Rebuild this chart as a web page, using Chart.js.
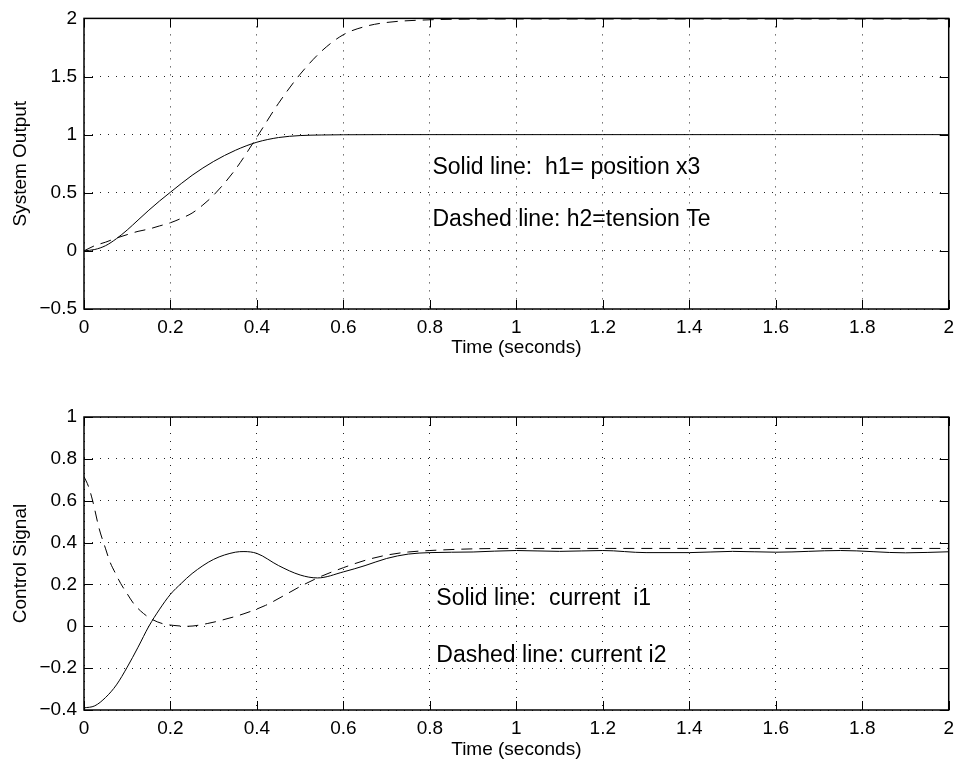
<!DOCTYPE html>
<html lang="en">
  <head>
    <meta charset="UTF-8" />
    <title>System Output / Control Signal</title>
    <script src="https://cdn.jsdelivr.net/npm/chart.js"></script>
    <style>
      body {
        margin: 0;
        background: #fff;
      }
      #wrap {
        position: relative;
        width: 961px;
        height: 765px;
      }
      canvas {
        position: absolute;
        left: 0;
      }
      #topChart { top: 0; }
      #bottomChart { top: 370px; }
    </style>
  </head>
  <body>
    <div id="wrap">
      <canvas id="topChart" width="961" height="370"></canvas>
      <canvas id="bottomChart" width="961" height="395"></canvas>
    </div>

    <script>
      // x ticks shared by both plots
      var xTicks = [0, 0.2, 0.4, 0.6, 0.8, 1, 1.2, 1.4, 1.6, 1.8, 2];
      var topYTicks = [-0.5, 0, 0.5, 1, 1.5, 2];
      var bottomYTicks = [-0.4, -0.2, 0, 0.2, 0.4, 0.6, 0.8, 1];

      // top plot: h1 = position x3 (solid)
      var h1Time = [0, 0.025, 0.05, 0.075, 0.1, 0.125, 0.15, 0.175, 0.2, 0.25, 0.3, 0.35, 0.4, 0.45, 0.5, 0.55, 0.6, 0.7, 0.8, 1.0, 1.2, 1.4, 1.6, 1.8, 2.0];
      var h1 = [0, 0.012, 0.045, 0.105, 0.18, 0.265, 0.35, 0.43, 0.505, 0.65, 0.77, 0.865, 0.935, 0.975, 0.992, 0.997, 0.999, 1.0, 1.0, 1.0, 1.0, 1.0, 1.0, 1.0, 1.0];

      // top plot: h2 = tension Te (dashed)
      var h2Time = [0, 0.025, 0.05, 0.075, 0.1, 0.125, 0.15, 0.175, 0.2, 0.225, 0.25, 0.275, 0.3, 0.35, 0.4, 0.45, 0.5, 0.55, 0.6, 0.65, 0.7, 0.8, 0.9, 1.0, 1.2, 1.4, 1.6, 1.8, 2.0];
      var h2 = [0, 0.045, 0.075, 0.11, 0.14, 0.168, 0.188, 0.215, 0.242, 0.28, 0.325, 0.395, 0.48, 0.7, 0.98, 1.27, 1.52, 1.72, 1.86, 1.93, 1.965, 1.988, 1.994, 1.995, 1.995, 1.995, 1.995, 1.995, 1.995];

      // bottom plot: current i1 (solid)
      var i1Time = [0, 0.025, 0.05, 0.075, 0.1, 0.125, 0.15, 0.175, 0.2, 0.225, 0.25, 0.3, 0.35, 0.37, 0.4, 0.45, 0.5, 0.54, 0.6, 0.65, 0.7, 0.75, 0.8, 0.9, 1.0, 1.1, 1.2, 1.3, 1.4, 1.5, 1.6, 1.75, 1.9, 2.0];
      var i1 = [-0.39, -0.38, -0.34, -0.28, -0.195, -0.1, 0.0, 0.082, 0.153, 0.205, 0.252, 0.32, 0.354, 0.357, 0.348, 0.29, 0.245, 0.231, 0.26, 0.29, 0.324, 0.345, 0.352, 0.355, 0.362, 0.358, 0.362, 0.352, 0.352, 0.358, 0.354, 0.362, 0.351, 0.356];

      // bottom plot: current i2 (dashed)
      var i2Time = [0, 0.01, 0.02, 0.035, 0.05, 0.06, 0.073, 0.085, 0.1, 0.115, 0.131, 0.154, 0.181, 0.208, 0.24, 0.285, 0.32, 0.37, 0.42, 0.46, 0.5, 0.55, 0.6, 0.65, 0.7, 0.75, 0.8, 0.9, 1.0, 1.2, 1.4, 1.6, 1.8, 2.0];
      var i2 = [0.715, 0.67, 0.6, 0.467, 0.37, 0.308, 0.252, 0.204, 0.155, 0.108, 0.073, 0.037, 0.013, 0.004, 0.0, 0.013, 0.03, 0.06, 0.1, 0.144, 0.19, 0.24, 0.28, 0.315, 0.34, 0.355, 0.362, 0.37, 0.372, 0.372, 0.372, 0.372, 0.372, 0.372];

      var topNotes = [
        { text: 'Solid line:  h1= position x3', x: 0.806, y: 0.72 },
        { text: 'Dashed line: h2=tension Te', x: 0.806, y: 0.27 }
      ];
      var bottomNotes = [
        { text: 'Solid line:  current  i1', x: 0.815, y: 0.13 },
        { text: 'Dashed line: current i2', x: 0.815, y: -0.142 }
      ];

      Chart.defaults.font.family = '"Liberation Sans", Arial, Helvetica, sans-serif';
      Chart.defaults.color = '#000';

      function points(ts, vs) {
        return ts.map(function (t, i) { return { x: t, y: vs[i] }; });
      }

      function fmt(v) {
        var s = String(Math.abs(+v.toFixed(2)));
        return v < -1e-9 ? '\u2212' + s : s;
      }

      // MATLAB style box, inward ticks and text notes
      var matlabBox = {
        id: 'matlabBox',
        afterDraw: function (chart) {
          var ctx = chart.ctx;
          var a = chart.chartArea;
          var xs = chart.scales.x, ys = chart.scales.y;
          var len = 9;
          ctx.save();
          ctx.strokeStyle = '#000';
          ctx.lineWidth = 1.5;
          ctx.strokeRect(a.left, a.top, a.right - a.left, a.bottom - a.top);
          ctx.lineWidth = 1;
          ctx.beginPath();
          xTicks.forEach(function (v) {
            var px = Math.round(xs.getPixelForValue(v)) + 0.5;
            ctx.moveTo(px, a.bottom); ctx.lineTo(px, a.bottom - len);
            ctx.moveTo(px, a.top); ctx.lineTo(px, a.top + len);
          });
          chart.options.plugins.matlabBox.yTicks.forEach(function (v) {
            var py = Math.round(ys.getPixelForValue(v)) + 0.5;
            ctx.moveTo(a.left, py); ctx.lineTo(a.left + len, py);
            ctx.moveTo(a.right, py); ctx.lineTo(a.right - len, py);
          });
          ctx.stroke();
          ctx.fillStyle = '#000';
          ctx.font = '23px "Liberation Sans", Arial, sans-serif';
          ctx.textAlign = 'left';
          ctx.textBaseline = 'middle';
          chart.options.plugins.matlabBox.notes.forEach(function (n) {
            ctx.fillText(n.text, xs.getPixelForValue(n.x), ys.getPixelForValue(n.y));
          });
          ctx.restore();
        }
      };

      function makeChart(id, solid, dashed, yTicks, yTitle, notes, padTop, xHeight, xTitlePad) {
        var ctx = document.getElementById(id).getContext('2d');
        return new Chart(ctx, {
          type: 'line',
          data: {
            datasets: [
              {
                data: solid,
                borderColor: '#000',
                borderWidth: 1,
                pointRadius: 0,
                cubicInterpolationMode: 'monotone'
              },
              {
                data: dashed,
                borderColor: '#000',
                borderWidth: 1,
                borderDash: [11, 7],
                pointRadius: 0,
                cubicInterpolationMode: 'monotone'
              }
            ]
          },
          options: {
            responsive: false,
            animation: false,
            events: [],
            layout: { padding: { top: padTop, right: 10, left: 0, bottom: 0 } },
            plugins: {
              legend: { display: false },
              tooltip: { enabled: false },
              matlabBox: { yTicks: yTicks, notes: notes }
            },
            scales: {
              x: {
                type: 'linear',
                min: 0,
                max: 2,
                afterBuildTicks: function (s) { s.ticks = xTicks.map(function (v) { return { value: v }; }); },
                afterFit: function (s) { s.height = xHeight; },
                ticks: { font: { size: 19 }, padding: 7, maxRotation: 0, autoSkip: false, callback: function (v) { return fmt(v); } },
                grid: { color: '#222', lineWidth: 1, drawTicks: false },
                border: { display: false, dash: [1, 7] },
                title: { display: true, text: 'Time (seconds)', font: { size: 19 }, padding: { top: 0, bottom: xTitlePad } }
              },
              y: {
                type: 'linear',
                min: yTicks[0],
                max: yTicks[yTicks.length - 1],
                afterBuildTicks: function (s) { s.ticks = yTicks.map(function (v) { return { value: v }; }); },
                afterFit: function (s) { s.width = 84; },
                ticks: { font: { size: 19 }, padding: 7, autoSkip: false, callback: function (v) { return fmt(v); } },
                grid: { color: '#222', lineWidth: 1, drawTicks: false },
                border: { display: false, dash: [1, 7] },
                title: { display: true, text: yTitle, font: { size: 19 }, padding: { top: 9, bottom: 0 } }
              }
            }
          },
          plugins: [matlabBox]
        });
      }

      makeChart('topChart', points(h1Time, h1), points(h2Time, h2), topYTicks, 'System Output', topNotes, 16, 61, 11);
      makeChart('bottomChart', points(i1Time, i1), points(i2Time, i2), bottomYTicks, 'Control Signal', bottomNotes, 47, 55, 4);
    </script>
  </body>
</html>
